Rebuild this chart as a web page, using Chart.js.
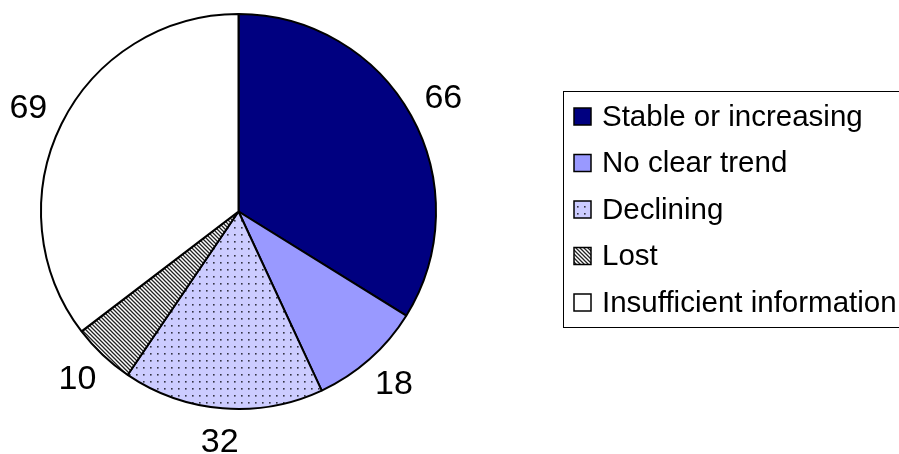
<!DOCTYPE html>
<html lang="en">
<head>
  <meta charset="UTF-8">
  <title>Population trend status</title>
  <script src="https://cdn.jsdelivr.net/npm/chart.js"></script>
  <style>
    html, body { margin: 0; padding: 0; background: #fff; }
    #wrap { width: 899px; height: 454px; position: relative; }
  </style>
</head>
<body>
  <div id="wrap"><canvas id="pie"></canvas></div>
  <script>
    const categories = ['Stable or increasing', 'No clear trend', 'Declining', 'Lost', 'Insufficient information'];
    const counts = [66, 18, 32, 10, 69];

    const FONT = '"Liberation Sans", Arial, sans-serif';

    // little tiles for the two patterned slices
    function dotPattern() {
      const c = document.createElement('canvas');
      c.width = 7; c.height = 7;
      const g = c.getContext('2d');
      g.fillStyle = '#ccccff';
      g.fillRect(0, 0, 7, 7);
      g.fillStyle = '#333344';
      g.fillRect(3, 3, 1.6, 1.6);
      return g.createPattern(c, 'repeat');
    }

    function hatchPattern() {
      const c = document.createElement('canvas');
      c.width = 4; c.height = 4;
      const g = c.getContext('2d');
      g.fillStyle = '#fff';
      g.fillRect(0, 0, 4, 4);
      g.strokeStyle = '#222';
      g.lineWidth = 1.3;
      g.beginPath();
      g.moveTo(-1, -1); g.lineTo(5, 5);
      g.moveTo(-1, 3); g.lineTo(1, 5);
      g.moveTo(3, -1); g.lineTo(5, 1);
      g.stroke();
      return g.createPattern(c, 'repeat');
    }

    const fills = ['#000080', '#9999ff', dotPattern(), hatchPattern(), '#ffffff'];

    // value labels just outside each slice
    const outsideLabels = {
      id: 'outsideLabels',
      afterDatasetsDraw(chart) {
        const ctx = chart.ctx;
        const meta = chart.getDatasetMeta(0);
        ctx.save();
        ctx.font = '34px ' + FONT;
        ctx.fillStyle = '#000';
        ctx.textAlign = 'center';
        ctx.textBaseline = 'middle';
        meta.data.forEach((arc, i) => {
          const p = arc.getProps(['x', 'y', 'startAngle', 'endAngle', 'outerRadius'], true);
          const mid = (p.startAngle + p.endAngle) / 2;
          const ux = Math.cos(mid), uy = Math.sin(mid);
          const txt = String(chart.data.datasets[0].data[i]);
          const w = ctx.measureText(txt).width;
          const h = 32;
          const r = p.outerRadius + 18;
          const cx = p.x + r * ux + ux * w / 2;
          const cy = p.y + r * uy + uy * h / 2;
          ctx.fillText(txt, cx, cy);
        });
        ctx.restore();
      }
    };

    // boxed legend on the right, partly clipped by the edge like the original
    const boxLegend = {
      id: 'boxLegend',
      afterDraw(chart) {
        const ctx = chart.ctx;
        const ds = chart.data.datasets[0];
        ctx.save();
        ctx.strokeStyle = '#000';
        ctx.lineWidth = 1;
        ctx.strokeRect(563.5, 91.5, 360, 236);
        ctx.font = '29.5px ' + FONT;
        ctx.textBaseline = 'middle';
        ctx.textAlign = 'left';
        chart.data.labels.forEach((lab, i) => {
          const y = 116.5 + i * 46.5;
          ctx.fillStyle = ds.backgroundColor[i];
          ctx.fillRect(574, y - 8.5, 17, 17);
          ctx.lineWidth = 1.5;
          ctx.strokeRect(574, y - 8.5, 17, 17);
          ctx.fillStyle = '#000';
          ctx.fillText(lab, 602, y + 1);
        });
        ctx.restore();
      }
    };

    new Chart(document.getElementById('pie'), {
      type: 'pie',
      data: {
        labels: categories,
        datasets: [{
          data: counts,
          backgroundColor: fills,
          borderColor: '#000',
          borderWidth: 2
        }]
      },
      options: {
        responsive: true,
        maintainAspectRatio: false,
        animation: false,
        layout: { padding: { left: 40, right: 462, top: 13, bottom: 44 } },
        plugins: {
          legend: { display: false },
          tooltip: { enabled: false }
        }
      },
      plugins: [outsideLabels, boxLegend]
    });
  </script>
</body>
</html>
